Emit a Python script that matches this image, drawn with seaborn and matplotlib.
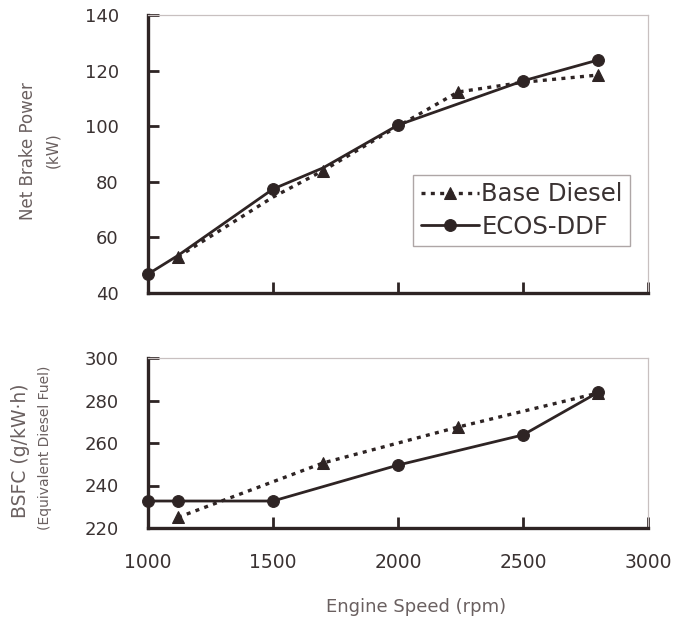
import numpy as np
import pandas as pd
import matplotlib
matplotlib.use("Agg")
import matplotlib.pyplot as plt
import seaborn as sns

# Engine speed (rpm) for each series
speed_ecos_power = [1000, 1120, 1500, 1700, 2000, 2500, 2800]
speed_ecos_bsfc = [1000, 1120, 1500, 2000, 2500, 2800]
speed_base = [1120, 1500, 1700, 2000, 2240, 2500, 2800]
speed_base_bsfc = [1120, 1700, 2240, 2800]

# Net brake power (kW)
power_ecos = [46.8, 53.5, 77.4, 85.0, 100.4, 116.3, 123.8]
power_base = [53.0, 74.5, 84.0, 100.0, 112.3, 115.8, 118.4]

# Brake specific fuel consumption (g/kW·h)
bsfc_ecos = [232.7, 232.7, 232.7, 249.6, 263.8, 283.8]
bsfc_base = [225.0, 250.6, 267.5, 283.5]

x_ticks = [1000, 1500, 2000, 2500, 3000]
power_ticks = [40, 60, 80, 100, 120, 140]
bsfc_ticks = [220, 240, 260, 280, 300]

sns.set_theme(style="white")
plt.rcParams["font.family"] = ["DejaVu Sans"]

INK = "#2e2424"
TXT = "#3a3232"
LBL = "#6a6060"

fig = plt.figure(figsize=(6.78, 6.21), dpi=100)
ax1 = fig.add_axes([148 / 678, 1 - 293 / 621, 500 / 678, 278 / 621])
ax2 = fig.add_axes([148 / 678, 1 - 528 / 621, 500 / 678, 170 / 621])

df_power_base = pd.DataFrame({"speed": speed_base, "value": power_base})
df_power_ecos = pd.DataFrame({"speed": speed_ecos_power, "value": power_ecos})
df_bsfc_base = pd.DataFrame({"speed": speed_base_bsfc, "value": bsfc_base})
df_bsfc_ecos = pd.DataFrame({"speed": speed_ecos_bsfc, "value": bsfc_ecos})

base_kw = dict(color=INK, linestyle=(0, (1.2, 1.6)), linewidth=2.4,
               marker="^", markersize=9, markeredgecolor=INK, clip_on=False)
ecos_kw = dict(color=INK, linestyle="-", linewidth=2.0,
               marker="o", markersize=8.5, markeredgecolor=INK, clip_on=False)

sns.lineplot(data=df_power_ecos, x="speed", y="value", ax=ax1,
             label="ECOS-DDF", markevery=[0, 2, 4, 5, 6], **ecos_kw)
sns.lineplot(data=df_power_base, x="speed", y="value", ax=ax1,
             label="Base Diesel", markevery=[0, 2, 4, 6], **base_kw)
sns.lineplot(data=df_bsfc_base, x="speed", y="value", ax=ax2, **base_kw)
sns.lineplot(data=df_bsfc_ecos, x="speed", y="value", ax=ax2, **ecos_kw)

for ax, yt in ((ax1, power_ticks), (ax2, bsfc_ticks)):
    ax.set_xlim(1000, 3000)
    ax.set_ylim(yt[0], yt[-1])
    ax.set_xticks(x_ticks)
    ax.set_yticks(yt)
    ax.set_xlabel("")
    ax.set_ylabel("")
    ax.tick_params(axis="both", direction="in", length=8, width=2,
                   color=INK, labelcolor=TXT, bottom=True, left=True)
    ax.tick_params(axis="y", labelsize=13, pad=21)
    ax.tick_params(axis="x", labelsize=13.5, pad=18)
    for s in ("left", "bottom"):
        ax.spines[s].set_color(INK)
        ax.spines[s].set_linewidth(2.4)
    for s in ("top", "right"):
        ax.spines[s].set_color("#c8c0c0")
        ax.spines[s].set_linewidth(0.9)
    ax.set_facecolor("white")

ax1.tick_params(axis="x", labelbottom=False)
for ax in (ax1, ax2):
    ax.get_xticklines()[0].set_visible(False)
    ax.get_yticklines()[0].set_visible(False)

handles, labels = ax1.get_legend_handles_labels()
order = [labels.index("Base Diesel"), labels.index("ECOS-DDF")]
leg = ax1.legend([handles[i] for i in order], [labels[i] for i in order],
                 loc="upper right", bbox_to_anchor=(0.964, 0.424),
                 borderaxespad=0, fontsize=17.5, frameon=True, fancybox=False,
                 handlelength=2.4, handletextpad=0.1, labelspacing=0.35,
                 borderpad=0.3, labelcolor=TXT)
leg.get_frame().set_edgecolor("#9a9090")
leg.get_frame().set_linewidth(1.0)

fig.text(28 / 678, 1 - 151 / 621, "Net Brake Power", rotation=90,
         ha="center", va="center", fontsize=12, color=LBL)
fig.text(53 / 678, 1 - 150 / 621, "(kW)", rotation=90,
         ha="center", va="center", fontsize=11, color=LBL)
fig.text(21 / 678, 1 - 451 / 621, "BSFC (g/kW·h)", rotation=90,
         ha="center", va="center", fontsize=13.5, color=LBL)
fig.text(45 / 678, 1 - 448 / 621, "(Equivalent Diesel Fuel)", rotation=90,
         ha="center", va="center", fontsize=10, color=LBL)
fig.text(416 / 678, 1 - 607 / 621, "Engine Speed (rpm)",
         ha="center", va="center", fontsize=13, color=LBL)

fig.savefig("out.png", dpi=100, facecolor="white")
